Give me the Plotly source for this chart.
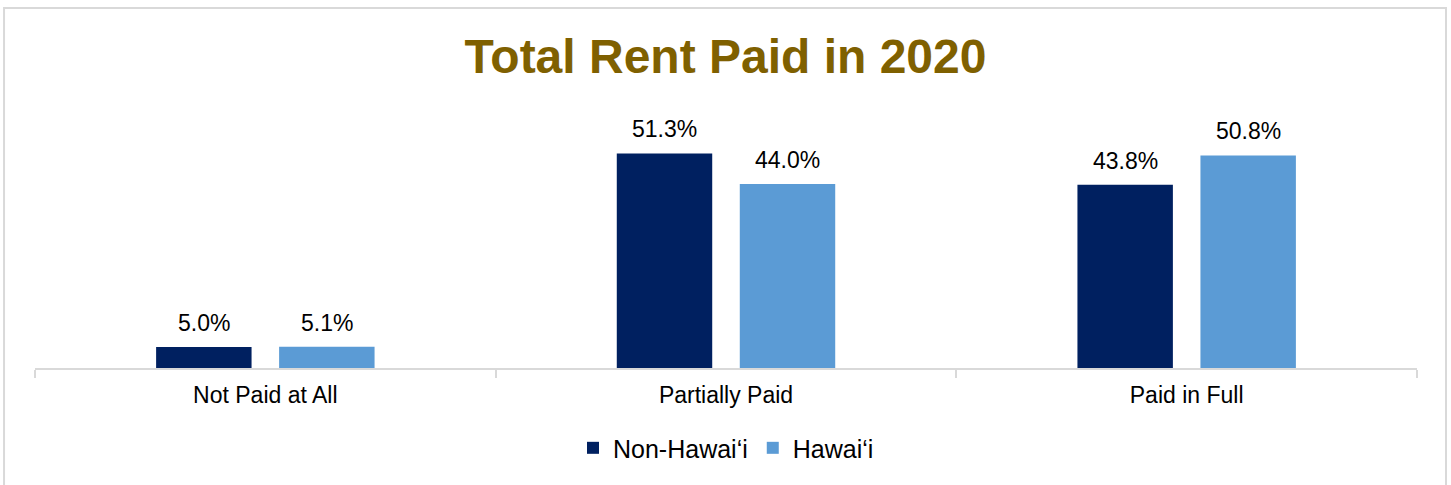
import plotly.graph_objects as go

categories = ["Not Paid at All", "Partially Paid", "Paid in Full"]
non_hawaii = [5.0, 51.3, 43.8]
hawaii = [5.1, 44.0, 50.8]
series_names = ["Non-Hawai\u2018i", "Hawai\u2018i"]
colors = ["#002060", "#5B9BD5"]
label_shift_px = [-61.5, 61.5]

FONT = "Liberation Sans, Arial"

fig = go.Figure()
for name, vals, col in zip(series_names, [non_hawaii, hawaii], colors):
    fig.add_trace(go.Bar(
        x=categories, y=vals, name=name, marker_color=col,
        marker_line_width=0,
    ))

annotations = []
for vals, dx in zip([non_hawaii, hawaii], label_shift_px):
    for cat, v in zip(categories, vals):
        annotations.append(dict(
            x=cat, y=v, xref="x", yref="y", text=f"{v:.1f}%",
            showarrow=False, xanchor="center", yanchor="bottom",
            xshift=dx, yshift=9,
            font=dict(size=23, color="#000000", family=FONT),
        ))

fig.update_layout(
    width=1451, height=485,
    margin=dict(l=35, r=34, t=117, b=117),
    paper_bgcolor="white", plot_bgcolor="white",
    barmode="group", bargap=0.466, bargroupgap=0.224,
    title=dict(text="<b>Total Rent Paid in 2020</b>", x=0.5, xanchor="center",
               y=0.885, yanchor="middle",
               font=dict(size=48, color="#7F6000", family=FONT)),
    font=dict(family=FONT, color="#000000"),
    legend=dict(orientation="h", x=0.5, xanchor="center", y=-0.319, yanchor="middle",
                font=dict(size=25, color="#000000"), traceorder="normal",
                itemwidth=30),
    showlegend=True,
    annotations=annotations,
)
fig.update_xaxes(
    showline=True, linecolor="#D9D9D9", linewidth=2,
    ticks="outside", ticklen=8, tickcolor="#D9D9D9", tickwidth=2,
    tickson="boundaries", showgrid=False, ticklabelstandoff=5,
    tickfont=dict(size=23, color="#000000"),
)
fig.update_yaxes(range=[0, 60], visible=False, showgrid=False)

fig.add_shape(type="rect", xref="paper", yref="paper",
              x0=-0.0224, x1=1.021, y0=-0.49, y1=1.434,
              line=dict(color="#D9D9D9", width=2), fillcolor="rgba(0,0,0,0)", layer="below")

fig.write_html("out.html", config={"displayModeBar": False},
               post_script="document.body.style.margin='0px';")
